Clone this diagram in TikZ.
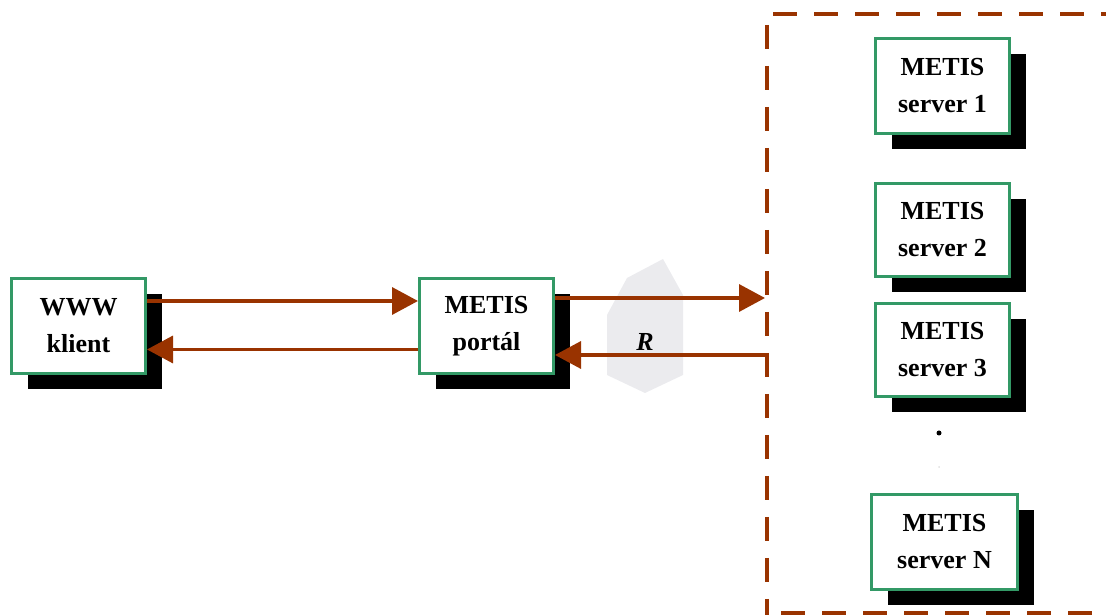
\documentclass[tikz,border=0pt]{standalone}
\usepackage{fontspec}
\setmainfont{Liberation Serif}
\usepackage{tikz}
\usetikzlibrary{arrows.meta, shadows}
\definecolor{rust}{HTML}{993300}
\definecolor{seagreen}{HTML}{339966}
\definecolor{haze}{HTML}{EBEBEE}

\begin{document}
\begin{tikzpicture}[x=1pt, y=1pt,
    >={Triangle[length=26pt, width=27pt]},
    box/.style={draw=seagreen, line width=3pt, fill=white,
      minimum width=134pt, minimum height=95pt, align=center,
      font=\fontsize{26}{37}\selectfont\bfseries,
      drop shadow={shadow xshift=16pt, shadow yshift=-16pt, fill=black, opacity=1}},
    link/.style={rust, line width=3.5pt}]
  \useasboundingbox (0,0) rectangle (1106,615);
  % server group, open to the right
  \draw[rust, line width=4pt, dash pattern=on 24pt off 17pt] (773,601) -- (1106,601);
  \draw[rust, line width=4pt, dash pattern=on 24pt off 17pt] (767,590) -- (767,0);
  \draw[rust, line width=4pt, dash pattern=on 24pt off 17pt] (781,2) -- (1106,2);
  \coordinate (grpin) at (765,317);
  \coordinate (grpout) at (767,260);
  % router behind the links
  \fill[haze] (663,356) -- (627,337) -- (607,300) -- (607,240) -- (645,222) -- (683,240) -- (683,320) -- cycle;
  \node[font=\fontsize{26}{30}\selectfont\bfseries\itshape] (rlab) at (645,273) {R};
  % client and portal
  \node[box] (klient) at (78.5,289) {WWW\\klient};
  \node[box] (portal) at (486.5,289) {METIS\\port\'al};
  % servers
  \node[box] (srv1) at (942.5,529) {METIS\\server 1};
  \node[box, minimum height=93pt] (srv2) at (942.5,385) {METIS\\server 2};
  \node[box, minimum height=93pt] (srv3) at (942.5,265) {METIS\\server 3};
  \node[box, minimum width=146pt] (srvN) at (944.5,73) {METIS\\server N};
  \fill (939,182) circle (2.5pt);
  \fill[black!12] (939,148) circle (1pt);
  % requests and replies
  \draw[link,->] ([yshift=25pt]klient.east) -- ([yshift=25pt]portal.west);
  \draw[link,->] ([yshift=-23.5pt]portal.west) -- ([yshift=-23.5pt]klient.east);
  \draw[link,->] ([yshift=28pt]portal.east) -- (grpin);
  \draw[link,->] (grpout) -- ([yshift=-29pt]portal.east);
\end{tikzpicture}
\end{document}
